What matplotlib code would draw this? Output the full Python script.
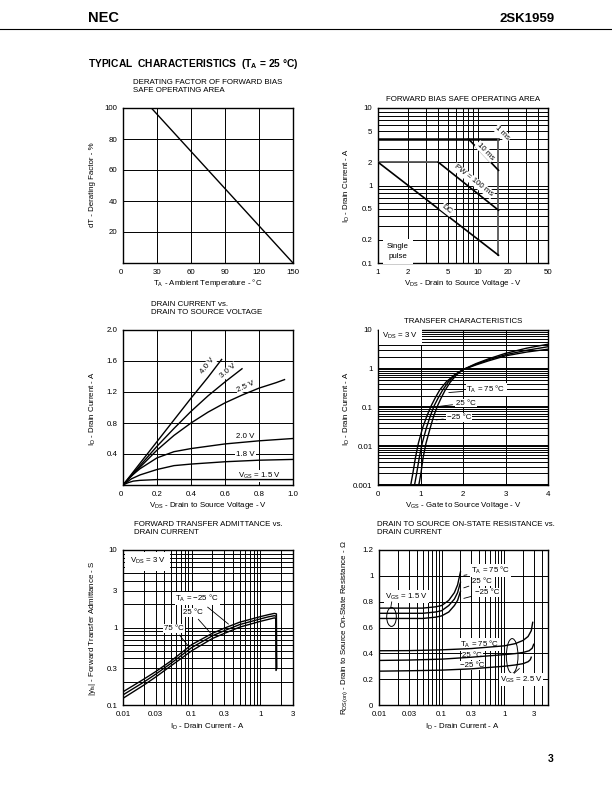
import matplotlib.pyplot as plt
from matplotlib.patches import Ellipse
from matplotlib.ticker import FixedFormatter, FixedLocator, NullFormatter

plt.rcParams["font.family"] = ["Liberation Sans", "DejaVu Sans"]
plt.rcParams["mathtext.fontset"] = "custom"
plt.rcParams["mathtext.rm"] = "Liberation Sans"

W, H = 612, 792
FS = 5.7

# --- derating factor
derate_temp = [0, 25, 150]
derate_pct = [100, 100, 0]

# --- forward bias SOA (single pulse)
soa_1ms_v = [1, 16]
soa_1ms_i = [4, 4]
soa_edge_v = [16, 16]
soa_edge_i = [4, 0.126]
soa_10ms_v = [8, 16]
soa_10ms_i = [4, 1.57]
soa_100ms_flat_v = [1, 4]
soa_100ms_flat_i = [2, 2]
soa_100ms_v = [4, 16]
soa_100ms_i = [2, 0.48]
soa_dc_v = [1, 16]
soa_dc_i = [2, 0.126]

# --- drain current vs drain-source voltage
vds_40 = [0, 0.1, 0.2, 0.3, 0.4, 0.5, 0.58]
id_40 = [0, 0.28, 0.56, 0.84, 1.12, 1.39, 1.62]
vds_30 = [0, 0.1, 0.2, 0.3, 0.4, 0.5, 0.6, 0.7]
id_30 = [0, 0.25, 0.5, 0.73, 0.95, 1.15, 1.33, 1.5]
vds_25 = [0, 0.1, 0.2, 0.3, 0.4, 0.5, 0.6, 0.7, 0.8, 0.9, 0.95]
id_25 = [0, 0.23, 0.45, 0.64, 0.8, 0.94, 1.06, 1.16, 1.25, 1.32, 1.36]
vds_20 = [0, 0.05, 0.1, 0.2, 0.3, 0.4, 0.5, 0.6, 0.8, 1.0]
id_20 = [0, 0.12, 0.21, 0.35, 0.43, 0.47, 0.5, 0.53, 0.57, 0.6]
vds_18 = [0, 0.05, 0.1, 0.2, 0.3, 0.4, 0.6, 0.8, 1.0]
id_18 = [0, 0.08, 0.13, 0.2, 0.25, 0.27, 0.3, 0.32, 0.33]
vds_15 = [0, 0.03, 0.06, 0.1, 0.2, 0.5, 1.0]
id_15 = [0, 0.03, 0.05, 0.06, 0.07, 0.07, 0.07]

# --- transfer characteristics (VDS = 3 V)
vgs_75 = [0.77, 0.82, 0.88, 0.95, 1.05, 1.15, 1.25, 1.35, 1.45, 1.6, 1.8, 2.0, 2.3, 2.6, 3.0, 3.5, 4.0]
tr_75 = [0.001, 0.002, 0.005, 0.012, 0.03, 0.06, 0.11, 0.18, 0.28, 0.45, 0.7, 0.95, 1.25, 1.6, 2.15, 2.7, 3.2]
vgs_25 = [0.86, 0.91, 0.97, 1.04, 1.14, 1.23, 1.32, 1.42, 1.52, 1.65, 1.82, 2.0, 2.3, 2.6, 3.0, 3.5, 4.0]
tr_25 = [0.001, 0.002, 0.005, 0.012, 0.03, 0.06, 0.11, 0.18, 0.28, 0.45, 0.7, 0.95, 1.3, 1.7, 2.3, 3.0, 3.7]
vgs_m25 = [0.96, 1.01, 1.06, 1.13, 1.23, 1.31, 1.4, 1.49, 1.58, 1.7, 1.85, 2.0, 2.3, 2.6, 3.0, 3.5, 4.0]
tr_m25 = [0.001, 0.002, 0.005, 0.012, 0.03, 0.06, 0.11, 0.18, 0.28, 0.45, 0.7, 0.95, 1.35, 1.8, 2.5, 3.4, 4.3]

# --- forward transfer admittance vs drain current
yfs_id_m25 = [0.01, 0.02, 0.03, 0.05, 0.1, 0.2, 0.3, 0.5, 1.0, 1.3, 1.6, 1.72, 1.74]
yfs_m25 = [0.148, 0.215, 0.27, 0.37, 0.6, 0.84, 0.98, 1.17, 1.38, 1.46, 1.52, 1.5, 0.3]
yfs_id_25 = [0.01, 0.02, 0.03, 0.05, 0.1, 0.2, 0.3, 0.5, 1.0, 1.3, 1.6, 1.7, 1.72]
yfs_25 = [0.135, 0.197, 0.25, 0.345, 0.55, 0.78, 0.91, 1.09, 1.29, 1.37, 1.42, 1.4, 0.29]
yfs_id_75 = [0.01, 0.02, 0.03, 0.05, 0.1, 0.2, 0.3, 0.5, 1.0, 1.3, 1.6, 1.68, 1.7]
yfs_75 = [0.122, 0.18, 0.23, 0.32, 0.5, 0.72, 0.84, 1.01, 1.2, 1.27, 1.33, 1.31, 0.28]

# --- RDS(on) vs drain current
rds_hi_id = [0.01, 0.05, 0.08, 0.1, 0.13, 0.16, 0.18, 0.2]
rds_hi_75 = [0.75, 0.75, 0.76, 0.77, 0.81, 0.87, 0.93, 1.03]
rds_hi_25 = [0.71, 0.71, 0.72, 0.73, 0.77, 0.82, 0.87, 0.95]
rds_hi_m25 = [0.67, 0.67, 0.68, 0.69, 0.72, 0.77, 0.81, 0.88]
rds_lo_id_75 = [0.01, 0.03, 0.1, 0.3, 1.0, 1.5, 2.0, 2.4, 2.7, 2.85]
rds_lo_75 = [0.42, 0.421, 0.427, 0.437, 0.458, 0.475, 0.5, 0.53, 0.575, 0.64]
rds_lo_id_25 = [0.01, 0.03, 0.1, 0.3, 1.0, 1.5, 2.0, 2.5, 2.8, 2.95]
rds_lo_25 = [0.345, 0.348, 0.355, 0.37, 0.39, 0.398, 0.407, 0.42, 0.44, 0.47]
rds_lo_id_m25 = [0.01, 0.03, 0.1, 0.3, 1.0, 1.5, 2.0, 2.4, 2.6, 2.7]
rds_lo_m25 = [0.262, 0.265, 0.27, 0.28, 0.3, 0.31, 0.32, 0.335, 0.35, 0.37]

WHITE = dict(fc="white", ec="none", pad=0.6)


def add_panel(fig, left, top, w=170, h=155):
    ax = fig.add_axes([left / W, 1 - (top + h) / H, w / W, h / H])
    ax.tick_params(which="both", length=0, labelsize=FS, pad=4)
    for s in ax.spines.values():
        s.set_linewidth(1.0)
    return ax


def set_ticks(axis, ticks, labels):
    axis.set_major_locator(FixedLocator(ticks))
    axis.set_major_formatter(FixedFormatter(labels))
    axis.set_minor_formatter(NullFormatter())


def grid(ax):
    ax.grid(which="both", color="black", linewidth=0.7, zorder=1)
    ax.set_axisbelow(True)


def ftext(fig, x, y, s, **kw):
    kw.setdefault("fontsize", FS)
    fig.text(x / W, 1 - y / H, s, **kw)


def main():
    fig = plt.figure(figsize=(W / 100, H / 100), dpi=100)

    # page header
    ftext(fig, 88, 22, "NEC", fontsize=10.5, fontweight="bold", va="baseline")
    ftext(fig, 555, 22, "2SK1959", fontsize=9.5, fontweight="bold", ha="right", va="baseline")
    fig.add_artist(plt.Line2D([0, 1], [1 - 29 / H] * 2, color="black", lw=0.8))
    ftext(fig, 88, 67, r"TYPICAL  CHARACTERISTICS  (T$_\mathregular{A}$ = 25 °C)",
          fontsize=7.4, fontweight="bold", va="baseline")
    ftext(fig, 554, 762, "3", fontsize=7.5, fontweight="bold", ha="right", va="baseline")

    # 1. derating factor
    ax = add_panel(fig, 123, 108)
    ax.plot(derate_temp, derate_pct, color="black", lw=1.0, zorder=3)
    ax.set_xlim(0, 150)
    ax.set_ylim(0, 100)
    set_ticks(ax.xaxis, [0, 30, 60, 90, 120, 150], ["0", "30", "60", "90", "120", "150"])
    set_ticks(ax.yaxis, [20, 40, 60, 80, 100], ["20", "40", "60", "80", "100"])
    ax.get_xticklabels()[0].set_ha("right")
    grid(ax)
    ftext(fig, 133, 92, "DERATING FACTOR OF FORWARD BIAS\nSAFE OPERATING AREA", va="baseline")
    ftext(fig, 208, 285, r"T$_\mathregular{A}$ - Ambient Temperature - °C", ha="center", va="baseline")
    ftext(fig, 93, 185, "dT - Derating Factor - %", rotation=90, ha="center", va="center")

    # 2. forward bias SOA
    ax = add_panel(fig, 378, 108)
    ax.set_xscale("log")
    ax.set_yscale("log")
    ax.set_xlim(1, 50)
    ax.set_ylim(0.1, 10)
    set_ticks(ax.xaxis, [1, 2, 5, 10, 20, 50], ["1", "2", "5", "10", "20", "50"])
    set_ticks(ax.yaxis, [0.1, 0.2, 0.5, 1, 2, 5, 10], ["0.1", "0.2", "0.5", "1", "2", "5", "10"])
    grid(ax)
    ax.plot(soa_1ms_v, soa_1ms_i, color="black", lw=1.8, zorder=3)
    ax.plot(soa_edge_v, soa_edge_i, color="#555555", lw=1.3, zorder=3)
    ax.plot(soa_10ms_v, soa_10ms_i, color="black", lw=1.2, zorder=3)
    ax.plot(soa_100ms_flat_v, soa_100ms_flat_i, color="#555555", lw=1.3, zorder=3)
    ax.plot(soa_100ms_v, soa_100ms_i, color="black", lw=1.2, zorder=3)
    ax.plot(soa_dc_v, soa_dc_i, color="black", lw=1.2, zorder=3)
    ax.text(17.5, 4.7, "1 ms", fontsize=FS, rotation=-45, ha="center", va="center", bbox=WHITE, zorder=4)
    ax.text(11.8, 2.75, "10 ms", fontsize=FS, rotation=-46, ha="center", va="center", bbox=WHITE, zorder=4)
    ax.text(9.0, 1.15, "PW = 100 ms", fontsize=FS, rotation=-38, ha="center", va="center", bbox=WHITE, zorder=4)
    ax.text(4.9, 0.49, "DC", fontsize=FS, rotation=-38, ha="center", va="center", bbox=WHITE, zorder=4)
    ax.text(1.58, 0.142, "Single\npulse", fontsize=FS, ha="center", va="center", linespacing=1.6,
            bbox=dict(fc="white", ec="none", pad=3), zorder=4)
    ftext(fig, 463, 101, "FORWARD BIAS SAFE OPERATING AREA", ha="center", va="baseline")
    ftext(fig, 463, 285, r"V$_\mathregular{DS}$ - Drain to Source Voltage - V", ha="center", va="baseline")
    ftext(fig, 347, 185, r"I$_\mathregular{D}$ - Drain Current - A", rotation=90, ha="center", va="center")

    # 3. drain current vs VDS
    ax = add_panel(fig, 123, 330)
    ax.set_xlim(0, 1.0)
    ax.set_ylim(0, 2.0)
    set_ticks(ax.xaxis, [0, 0.2, 0.4, 0.6, 0.8, 1.0], ["0", "0.2", "0.4", "0.6", "0.8", "1.0"])
    set_ticks(ax.yaxis, [0.4, 0.8, 1.2, 1.6, 2.0], ["0.4", "0.8", "1.2", "1.6", "2.0"])
    ax.get_xticklabels()[0].set_ha("right")
    grid(ax)
    for x, y in [(vds_40, id_40), (vds_30, id_30), (vds_25, id_25),
                 (vds_20, id_20), (vds_18, id_18), (vds_15, id_15)]:
        ax.plot(x, y, color="black", lw=1.0, zorder=3)
    ax.text(0.5, 1.54, "4.0 V", fontsize=FS, rotation=52, ha="center", va="center", bbox=WHITE, zorder=2.5)
    ax.text(0.62, 1.47, "3.0 V", fontsize=FS, rotation=40, ha="center", va="center", bbox=WHITE, zorder=2.5)
    ax.text(0.72, 1.27, "2.5 V", fontsize=FS, rotation=25, ha="center", va="center", bbox=WHITE, zorder=2.5)
    ax.text(0.72, 0.63, "2.0 V", fontsize=FS, ha="center", va="center", bbox=WHITE, zorder=2.5)
    ax.text(0.72, 0.39, "1.8 V", fontsize=FS, ha="center", va="center", bbox=WHITE, zorder=2.5)
    ax.text(0.8, 0.115, r"V$_\mathregular{GS}$ = 1.5 V", fontsize=FS, ha="center", va="center",
            bbox=WHITE, zorder=2.5)
    ftext(fig, 151, 314, "DRAIN CURRENT vs.\nDRAIN TO SOURCE VOLTAGE", va="baseline")
    ftext(fig, 208, 507, r"V$_\mathregular{DS}$ - Drain to Source Voltage - V", ha="center", va="baseline")
    ftext(fig, 93, 408, r"I$_\mathregular{D}$ - Drain Current - A", rotation=90, ha="center", va="center")

    # 4. transfer characteristics
    ax = add_panel(fig, 378, 330)
    ax.set_yscale("log")
    ax.set_xlim(0, 4)
    ax.set_ylim(0.001, 10)
    set_ticks(ax.xaxis, [0, 1, 2, 3, 4], ["0", "1", "2", "3", "4"])
    set_ticks(ax.yaxis, [0.001, 0.01, 0.1, 1, 10], ["0.001", "0.01", "0.1", "1", "10"])
    grid(ax)
    ax.grid(which="major", axis="y", color="black", linewidth=1.4)
    for x, y in [(vgs_75, tr_75), (vgs_25, tr_25), (vgs_m25, tr_m25)]:
        ax.plot(x, y, color="black", lw=1.0, zorder=3)
    arrow = dict(arrowstyle="-", lw=0.6, color="black")
    ax.annotate(r"T$_\mathregular{A}$ = 75 °C", xy=(1.6, 0.24), xytext=(2.08, 0.29), fontsize=FS,
                va="center", bbox=WHITE, arrowprops=arrow, zorder=4)
    ax.annotate("25 °C", xy=(1.38, 0.105), xytext=(1.84, 0.13), fontsize=FS,
                va="center", bbox=WHITE, arrowprops=arrow, zorder=4)
    ax.annotate("\u221225 °C", xy=(1.3, 0.047), xytext=(1.62, 0.056), fontsize=FS,
                va="center", bbox=WHITE, arrowprops=arrow, zorder=4)
    ax.text(0.1, 7.0, r"V$_\mathregular{DS}$ = 3 V", fontsize=FS, va="center",
            bbox=dict(fc="white", ec="none", pad=2.5), zorder=4)
    ftext(fig, 463, 323, "TRANSFER CHARACTERISTICS", ha="center", va="baseline")
    ftext(fig, 463, 507, r"V$_\mathregular{GS}$ - Gate to Source Voltage - V", ha="center", va="baseline")
    ftext(fig, 347, 408, r"I$_\mathregular{D}$ - Drain Current - A", rotation=90, ha="center", va="center")

    # 5. forward transfer admittance
    ax = add_panel(fig, 123, 550)
    ax.set_xscale("log")
    ax.set_yscale("log")
    ax.set_xlim(0.01, 3)
    ax.set_ylim(0.1, 10)
    set_ticks(ax.xaxis, [0.01, 0.03, 0.1, 0.3, 1, 3], ["0.01", "0.03", "0.1", "0.3", "1", "3"])
    set_ticks(ax.yaxis, [0.1, 0.3, 1, 3, 10], ["0.1", "0.3", "1", "3", "10"])
    grid(ax)
    for x, y in [(yfs_id_m25, yfs_m25), (yfs_id_25, yfs_25), (yfs_id_75, yfs_75)]:
        ax.plot(x, y, color="black", lw=1.0, zorder=3)
    ax.annotate("T$_\\mathregular{A}$ = \u221225 °C", xy=(0.37, 1.05), xytext=(0.058, 2.35), fontsize=FS,
                va="center", bbox=WHITE, arrowprops=arrow, zorder=4)
    ax.annotate("25 °C", xy=(0.2, 0.8), xytext=(0.074, 1.55), fontsize=FS,
                va="center", bbox=WHITE, arrowprops=arrow, zorder=4)
    ax.annotate("75 °C", xy=(0.095, 0.54), xytext=(0.04, 0.97), fontsize=FS,
                va="center", bbox=WHITE, arrowprops=arrow, zorder=4)
    ax.text(0.0125, 7.2, r"V$_\mathregular{DS}$ = 3 V", fontsize=FS, va="center",
            bbox=dict(fc="white", ec="none", pad=3), zorder=4)
    ftext(fig, 134, 534, "FORWARD TRANSFER ADMITTANCE vs.\nDRAIN CURRENT", va="baseline")
    ftext(fig, 208, 728, r"I$_\mathregular{D}$ - Drain Current - A", ha="center", va="baseline")
    ftext(fig, 93, 628, r"|y$_\mathregular{fs}$| - Forward Transfer Admittance - S",
          rotation=90, ha="center", va="center")

    # 6. on-state resistance
    ax = add_panel(fig, 379, 550, w=169)
    ax.set_xscale("log")
    ax.set_xlim(0.01, 5)
    ax.set_ylim(0, 1.2)
    set_ticks(ax.xaxis, [0.01, 0.03, 0.1, 0.3, 1, 3], ["0.01", "0.03", "0.1", "0.3", "1", "3"])
    set_ticks(ax.yaxis, [0, 0.2, 0.4, 0.6, 0.8, 1.0, 1.2], ["0", "0.2", "0.4", "0.6", "0.8", "1", "1.2"])
    grid(ax)
    for y in (rds_hi_75, rds_hi_25, rds_hi_m25):
        ax.plot(rds_hi_id, y, color="black", lw=1.0, zorder=3)
    for x, y in [(rds_lo_id_75, rds_lo_75), (rds_lo_id_25, rds_lo_25), (rds_lo_id_m25, rds_lo_m25)]:
        ax.plot(x, y, color="black", lw=1.0, zorder=3)
    ax.annotate(r"T$_\mathregular{A}$ = 75 °C", xy=(0.205, 1.0), xytext=(0.29, 1.04), fontsize=FS,
                va="center", bbox=WHITE, arrowprops=arrow, zorder=4)
    ax.annotate("25 °C", xy=(0.205, 0.9), xytext=(0.31, 0.955), fontsize=FS,
                va="center", bbox=WHITE, arrowprops=arrow, zorder=4)
    ax.annotate("\u221225 °C", xy=(0.205, 0.82), xytext=(0.34, 0.873), fontsize=FS,
                va="center", bbox=WHITE, arrowprops=arrow, zorder=4)
    ax.text(0.2, 0.47, r"T$_\mathregular{A}$ = 75 °C", fontsize=FS, va="center", bbox=WHITE, zorder=2.5)
    ax.text(0.215, 0.385, "25 °C", fontsize=FS, va="center", bbox=WHITE, zorder=2.5)
    ax.text(0.195, 0.305, "\u221225 °C", fontsize=FS, va="center", bbox=WHITE, zorder=2.5)
    ax.add_patch(Ellipse((0.074, 0.568), 0.057, 0.122, transform=ax.transAxes,
                         fill=False, ec="black", lw=0.7, zorder=4))
    ax.add_patch(Ellipse((0.788, 0.316), 0.069, 0.225, transform=ax.transAxes,
                         fill=False, ec="black", lw=0.7, zorder=4))
    ax.text(0.034, 0.70, r"V$_\mathregular{GS}$ = 1.5 V", fontsize=FS, va="center",
            transform=ax.transAxes, bbox=WHITE, zorder=4)
    ax.plot([0.075, 0.07], [0.665, 0.63], color="black", lw=0.6, transform=ax.transAxes, zorder=4)
    ax.text(0.714, 0.165, r"V$_\mathregular{GS}$ = 2.5 V", fontsize=FS, va="center",
            transform=ax.transAxes, bbox=WHITE, zorder=4)
    ax.plot([0.8, 0.83], [0.205, 0.235], color="black", lw=0.6, transform=ax.transAxes, zorder=4)
    ftext(fig, 377, 534, "DRAIN TO SOURCE ON-STATE RESISTANCE vs.\nDRAIN CURRENT", va="baseline")
    ftext(fig, 463, 728, r"I$_\mathregular{D}$ - Drain Current - A", ha="center", va="baseline")
    ftext(fig, 345, 628, r"R$_\mathregular{DS(on)}$ - Drain to Source On-State Resistance - $\Omega$",
          rotation=90, ha="center", va="center")

    fig.savefig("out.png", dpi=100)
    plt.close(fig)


if __name__ == "__main__":
    main()
